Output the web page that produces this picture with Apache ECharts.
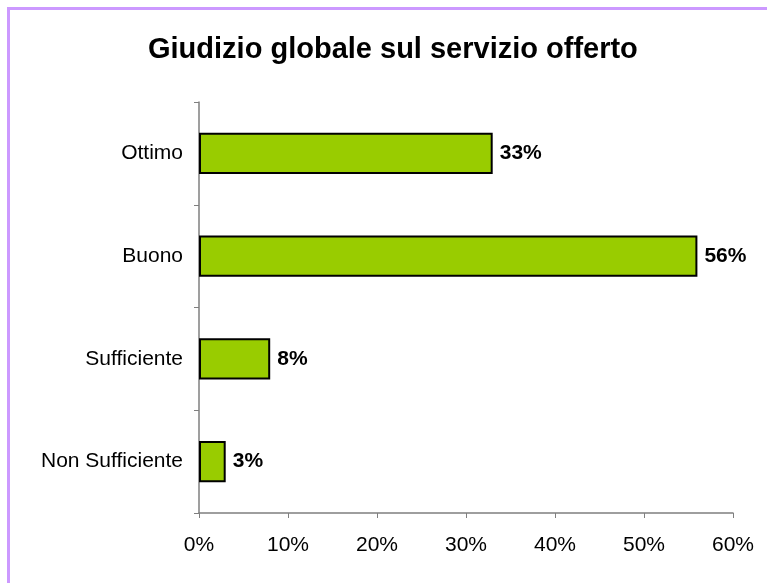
<!DOCTYPE html>
<html>
<head>
<meta charset="utf-8">
<script src="https://cdn.jsdelivr.net/npm/echarts@6/dist/echarts.min.js"></script>
<style>
  html, body { margin: 0; padding: 0; background: #fff; }
  #frame {
    position: absolute; left: 7px; top: 7px; width: 760px; height: 576px;
    border-left: 3px solid #CC99FF; border-top: 3px solid #CC99FF;
  }
  #chart { position: absolute; left: 0; top: 0; width: 767px; height: 583px; }
</style>
</head>
<body>
<div id="frame"></div>
<div id="chart"></div>
<script>
const categories = ['Ottimo', 'Buono', 'Sufficiente', 'Non Sufficiente']
const values = [33, 56, 8, 3]
const xTicks = [0, 10, 20, 30, 40, 50, 60]

const BAR_COLOR = '#99CC00'
const AXIS_COLOR = '#7f7f7f'
const FONT = '"Liberation Sans", Arial, sans-serif'

const chart = echarts.init(document.getElementById('chart'))
chart.setOption({
  animation: false,
  title: {
    text: 'Giudizio globale sul servizio offerto',
    left: 143,
    top: 30,
    textStyle: { fontFamily: FONT, fontSize: 29, fontWeight: 'bold', color: '#000' },
  },
  grid: { left: 199, right: 34, top: 102, bottom: 70 },
  xAxis: {
    type: 'value',
    min: xTicks[0],
    max: xTicks[xTicks.length - 1],
    interval: 10,
    axisLine: { show: true, lineStyle: { color: AXIS_COLOR, width: 1.5 } },
    axisTick: { show: true, length: 5, lineStyle: { color: AXIS_COLOR } },
    splitLine: { show: false },
    axisLabel: {
      formatter: (v) => v + '%',
      color: '#000',
      fontFamily: FONT,
      fontSize: 21,
      margin: 22,
    },
  },
  yAxis: {
    type: 'category',
    inverse: true,
    data: categories,
    axisLine: { show: true, lineStyle: { color: AXIS_COLOR, width: 1.5 } },
    axisTick: { show: true, length: 5, lineStyle: { color: AXIS_COLOR } },
    axisLabel: { color: '#000', fontFamily: FONT, fontSize: 21, margin: 16 },
  },
  series: [
    {
      type: 'bar',
      data: values,
      barCategoryGap: '60%',
      itemStyle: { color: BAR_COLOR, borderColor: '#000', borderWidth: 2 },
      label: {
        show: true,
        position: 'right',
        distance: 7,
        formatter: (p) => p.value + '%',
        color: '#000',
        fontFamily: FONT,
        fontSize: 21,
        fontWeight: 'bold',
      },
    },
  ],
})
</script>
</body>
</html>
